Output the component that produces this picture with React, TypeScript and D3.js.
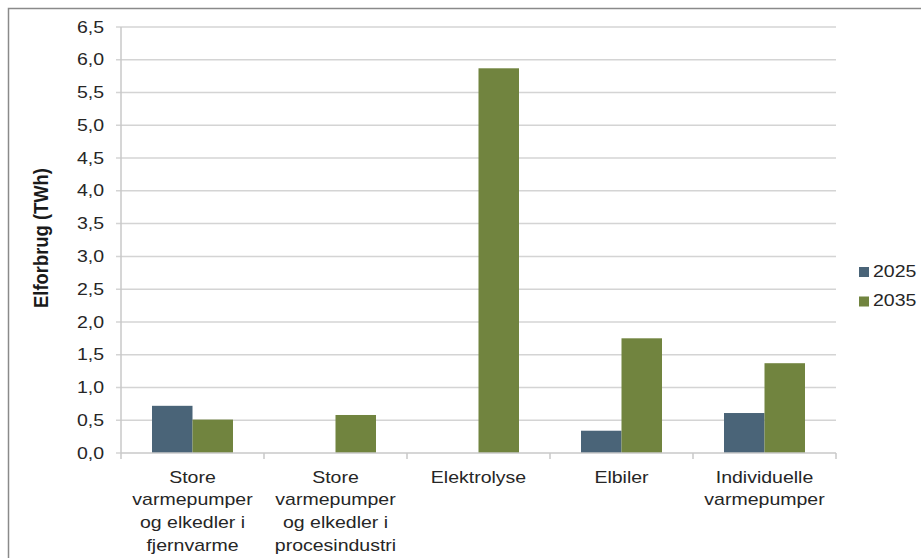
import React from "react";
import * as d3 from "d3";

const categories: string[][] = [
  ["Store", "varmepumper", "og elkedler i", "fjernvarme"],
  ["Store", "varmepumper", "og elkedler i", "procesindustri"],
  ["Elektrolyse"],
  ["Elbiler"],
  ["Individuelle", "varmepumper"],
];
const seriesNames = ["2025", "2035"];
const values2025 = [0.72, 0, 0, 0.34, 0.61];
const values2035 = [0.51, 0.58, 5.87, 1.75, 1.37];
const yTicks = [0, 0.5, 1, 1.5, 2, 2.5, 3, 3.5, 4, 4.5, 5, 5.5, 6, 6.5];
const yTitle = "Elforbrug (TWh)";

const colors = ["#4a6478", "#71843f"];
const SX = 1.22;
const FONT = "'Liberation Sans', Arial, sans-serif";

export default function App() {
  const left = 121, right = 836, top = 27, bottom = 453;
  const y = d3.scaleLinear().domain([0, 6.5]).range([bottom, top]);
  const keys = categories.map((_, i) => String(i));
  const p = 62 / 143;
  const x = d3.scaleBand<string>().domain(keys).range([left, right]).paddingInner(p).paddingOuter(p / 2);
  const xs = d3.scaleBand<string>().domain(seriesNames).range([0, x.bandwidth()]);
  const series = [values2025, values2035];
  const step = x.step();
  const fmt = (v: number) => d3.format(".1f")(v).replace(".", ",");

  return (
    <div style={{ position: "absolute", left: 0, top: 0 }}>
      <svg width={921} height={558} style={{ display: "block", background: "#fff" }}>
        <rect x={8.5} y={8.5} width={1000} height={1000} fill="#fff" stroke="#8a8a8a" strokeWidth={1.5} />
        {yTicks.map((t) => (
          <g key={t}>
            <line x1={left - 5} x2={t === 0 ? left : right} y1={y(t)} y2={y(t)} stroke="#d4d4d4" strokeWidth={1.5} />
            <text
              transform={`translate(104,${y(t) + 5.6}) scale(${SX},1)`}
              textAnchor="end"
              fontFamily={FONT}
              fontSize={16}
              fill="#262626"
            >
              {fmt(t)}
            </text>
          </g>
        ))}
        {series.map((vals, si) =>
          vals.map((v, ci) =>
            v > 0 ? (
              <rect
                key={`${si}-${ci}`}
                x={(x(String(ci)) as number) + (xs(seriesNames[si]) as number)}
                y={y(v)}
                width={xs.bandwidth()}
                height={y(0) - y(v)}
                fill={colors[si]}
              />
            ) : null
          )
        )}
        <line x1={left} x2={left} y1={top} y2={bottom} stroke="#c8c8c8" strokeWidth={1.5} />
        <line x1={left} x2={right} y1={bottom} y2={bottom} stroke="#c8c8c8" strokeWidth={1.5} />
        {d3.range(categories.length + 1).map((i) => (
          <line key={i} x1={left + i * step} x2={left + i * step} y1={bottom} y2={bottom + 6} stroke="#c8c8c8" strokeWidth={1.5} />
        ))}
        {categories.map((lines, ci) => {
          const cx = (x(String(ci)) as number) + x.bandwidth() / 2;
          return lines.map((ln, li) => (
            <text
              key={`${ci}-${li}`}
              transform={`translate(${cx},${482.5 + li * 22.8}) scale(${SX},1)`}
              textAnchor="middle"
              fontFamily={FONT}
              fontSize={16}
              fill="#262626"
            >
              {ln}
            </text>
          ));
        })}
        <text
          transform={`translate(47.5,238) rotate(-90) scale(1.15,${SX})`}
          textAnchor="middle"
          fontFamily={FONT}
          fontSize={16}
          fontWeight="bold"
          fill="#1a1a1a"
        >
          {yTitle}
        </text>
        {seriesNames.map((s, i) => (
          <g key={s}>
            <rect x={859} y={267 + i * 29.5} width={10} height={10} fill={colors[i]} />
            <text
              transform={`translate(873,${277 + i * 29.3}) scale(${SX},1)`}
              fontFamily={FONT}
              fontSize={16}
              fill="#262626"
            >
              {s}
            </text>
          </g>
        ))}
      </svg>
    </div>
  );
}
